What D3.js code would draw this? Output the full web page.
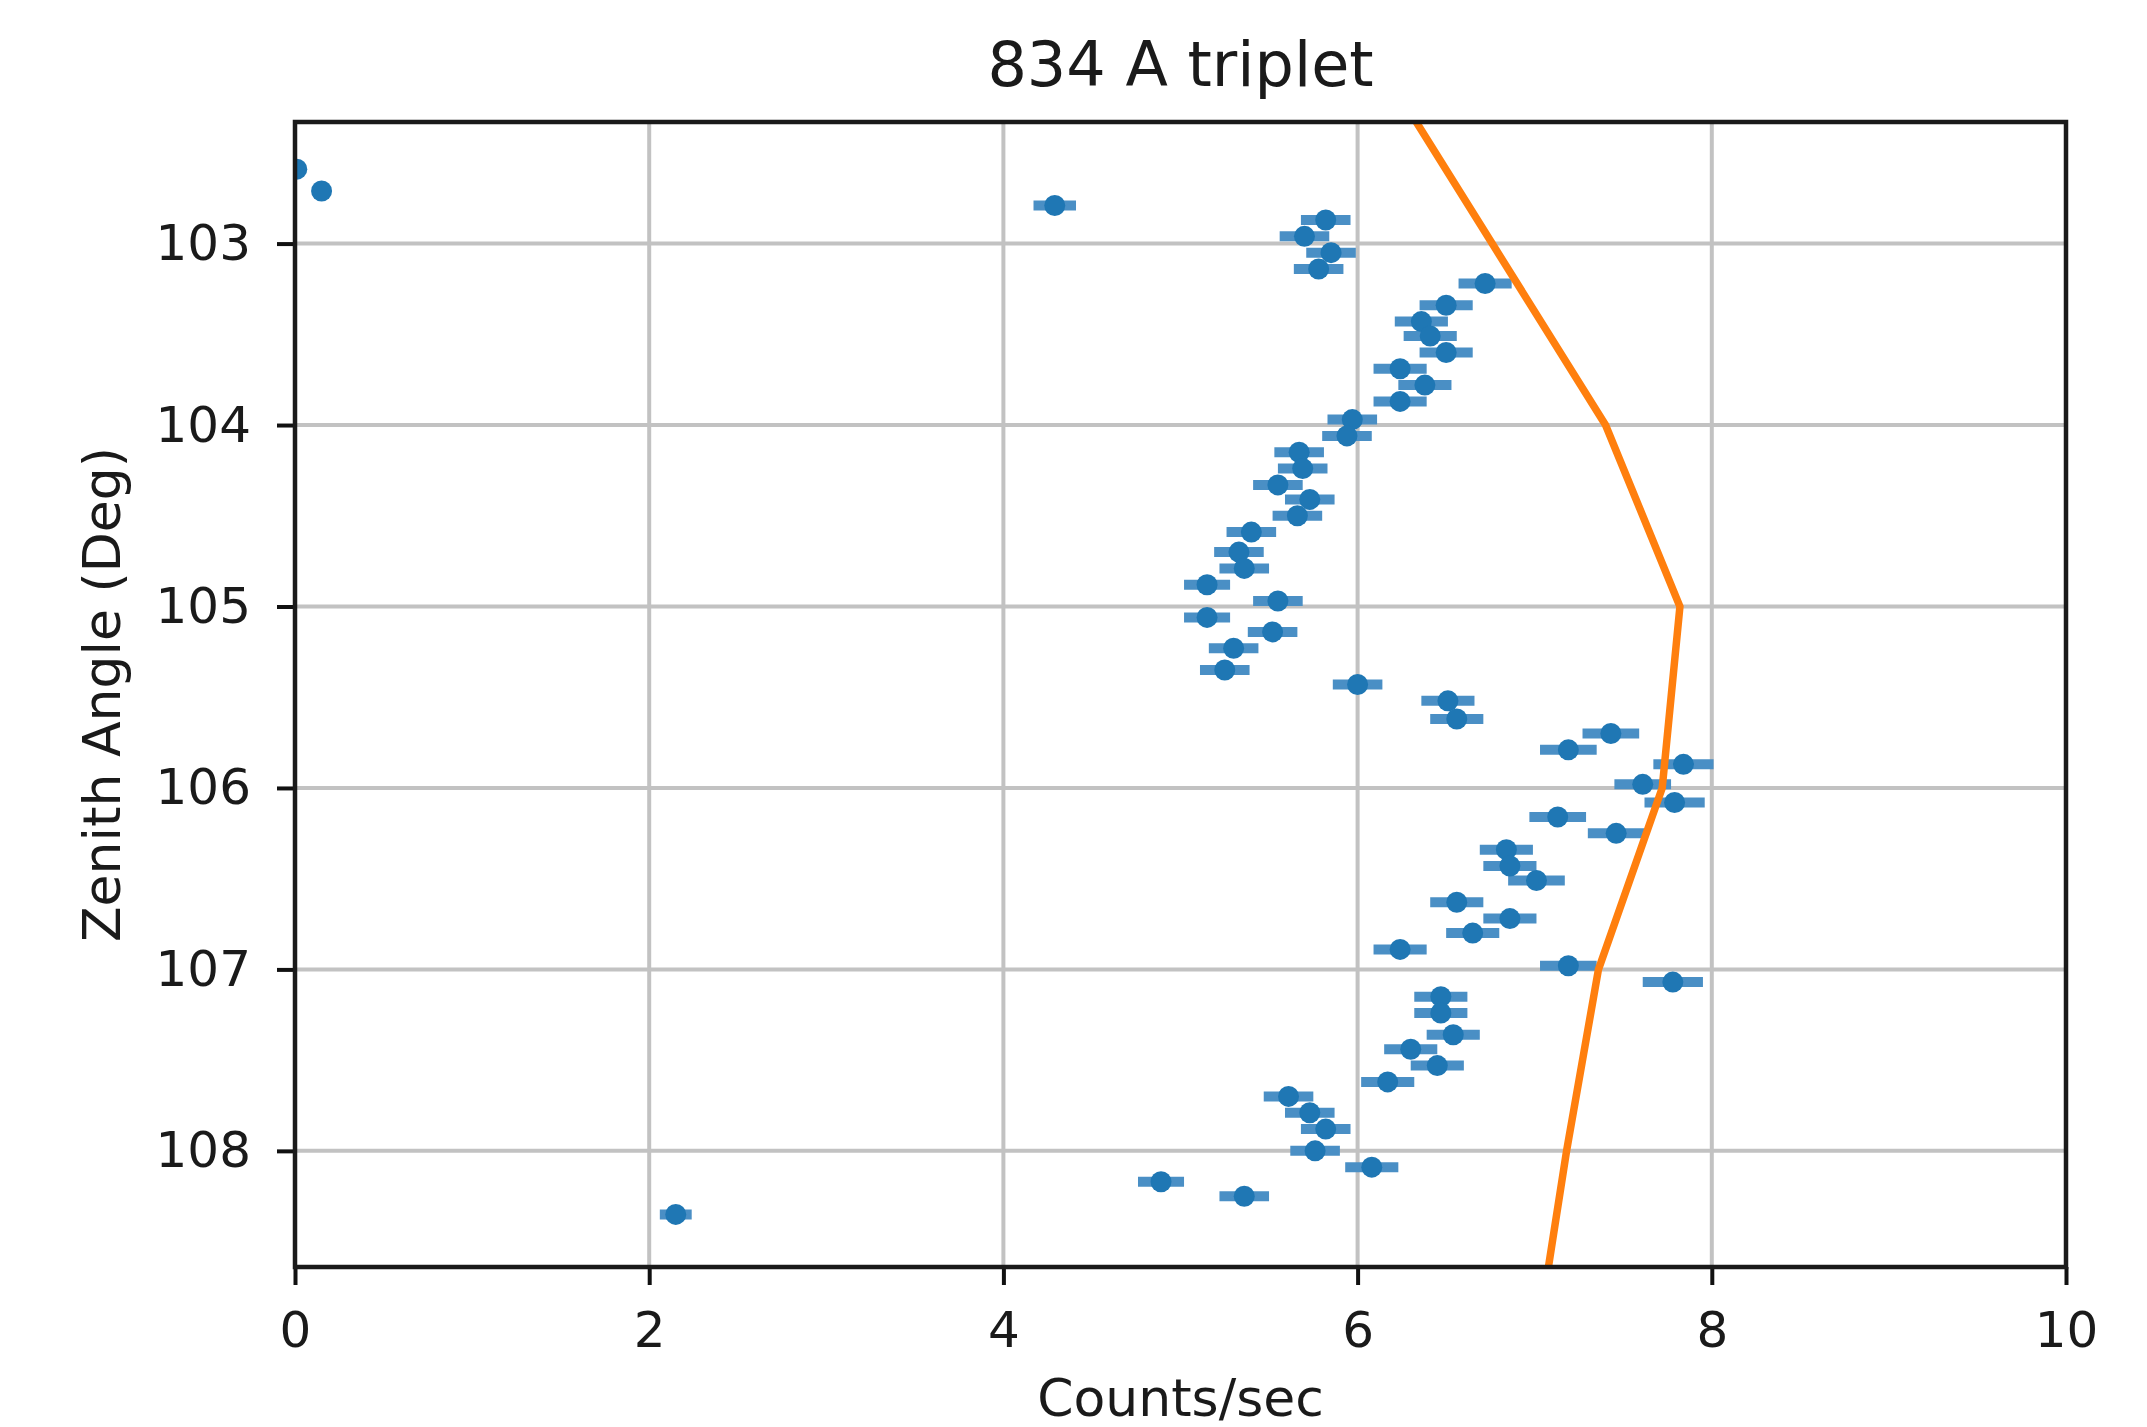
<!DOCTYPE html>
<html>
<head>
<meta charset="utf-8">
<script src="https://cdn.jsdelivr.net/npm/d3@7"></script>
<style>
  body { margin: 0; background: #fff; }
  svg { display: block; font-family: "DejaVu Sans", sans-serif; }
</style>
</head>
<body>
<svg></svg>
<script>
// zenith angle of each measurement (deg)
const angles = [
  102.59, 102.71, 102.79, 102.87, 102.96, 103.05, 103.14, 103.22, 103.34, 103.43,
  103.51, 103.60, 103.69, 103.78, 103.87, 103.97, 104.06, 104.15, 104.24, 104.33,
  104.41, 104.50, 104.59, 104.70, 104.79, 104.88, 104.97, 105.06, 105.14, 105.23,
  105.35, 105.43, 105.52, 105.62, 105.70, 105.79, 105.87, 105.98, 106.08, 106.16,
  106.25, 106.34, 106.43, 106.51, 106.63, 106.72, 106.80, 106.89, 106.98, 107.07,
  107.15, 107.24, 107.36, 107.44, 107.53, 107.62, 107.70, 107.79, 107.88, 108.00,
  108.09, 108.17, 108.25, 108.35
];
// measured rate (counts/sec)
const counts = [
  0.01, 0.15, 4.29, 5.82, 5.70, 5.85, 5.78, 6.72, 6.50, 6.36,
  6.41, 6.50, 6.24, 6.38, 6.24, 5.97, 5.94, 5.67, 5.69, 5.55,
  5.73, 5.66, 5.40, 5.33, 5.36, 5.15, 5.55, 5.15, 5.52, 5.30,
  5.25, 6.00, 6.51, 6.56, 7.43, 7.19, 7.84, 7.61, 7.79, 7.13,
  7.46, 6.84, 6.86, 7.01, 6.56, 6.86, 6.65, 6.24, 7.19, 7.78,
  6.47, 6.47, 6.54, 6.30, 6.45, 6.17, 5.61, 5.73, 5.82, 5.76,
  6.08, 4.89, 5.36, 2.15
];
// horizontal error on the rate
const countErr = [
  0.01, 0.02, 0.12, 0.14, 0.14, 0.14, 0.14, 0.15, 0.15, 0.15,
  0.15, 0.15, 0.15, 0.15, 0.15, 0.14, 0.14, 0.14, 0.14, 0.14,
  0.14, 0.14, 0.14, 0.14, 0.14, 0.13, 0.14, 0.13, 0.14, 0.14,
  0.14, 0.14, 0.15, 0.15, 0.16, 0.16, 0.17, 0.16, 0.17, 0.16,
  0.16, 0.15, 0.15, 0.16, 0.15, 0.15, 0.15, 0.15, 0.16, 0.17,
  0.15, 0.15, 0.15, 0.15, 0.15, 0.15, 0.14, 0.14, 0.14, 0.14,
  0.15, 0.13, 0.14, 0.09
];

// model curve
const modelAngles = [102, 103, 104, 105, 106, 107, 108, 109];
const modelCounts = [6.12, 6.76, 7.40, 7.82, 7.72, 7.36, 7.18, 7.02];

const xTicks = [0, 2, 4, 6, 8, 10];
const yTicks = [103, 104, 105, 106, 107, 108];

let width = 2147, height = 1427;
let margin = { left: 295, right: 81, top: 122, bottom: 160 };
let plotW = width - margin.left - margin.right;
let plotH = height - margin.top - margin.bottom;

let svg = d3.select("svg")
  .attr("width", width)
  .attr("height", height);

let x = d3.scaleLinear().domain([0, 10]).range([0, plotW]);
let y = d3.scaleLinear().domain([102.33, 108.64]).range([0, plotH]);

let g = svg.append("g")
  .attr("transform", `translate(${margin.left},${margin.top})`);

svg.append("defs").append("clipPath").attr("id", "clip")
  .append("rect").attr("width", plotW).attr("height", plotH);

// grid
g.append("g")
  .selectAll("line.vx")
  .data(xTicks)
  .enter().append("line")
  .attr("x1", d => x(d)).attr("x2", d => x(d))
  .attr("y1", 0).attr("y2", plotH)
  .attr("stroke", "#c2c2c2").attr("stroke-width", 4);

g.append("g")
  .selectAll("line.hy")
  .data(yTicks)
  .enter().append("line")
  .attr("x1", 0).attr("x2", plotW)
  .attr("y1", d => y(d)).attr("y2", d => y(d))
  .attr("stroke", "#c2c2c2").attr("stroke-width", 4);

let data = angles.map((a, i) => ({ a: a, c: counts[i], e: countErr[i] }));

let plot = g.append("g").attr("clip-path", "url(#clip)");

// error bars
plot.append("g")
  .selectAll("line")
  .data(data)
  .enter().append("line")
  .attr("x1", d => x(d.c - d.e))
  .attr("x2", d => x(d.c + d.e))
  .attr("y1", d => y(d.a))
  .attr("y2", d => y(d.a))
  .attr("stroke", "#4a8fc5")
  .attr("stroke-width", 10);

// points
plot.append("g")
  .selectAll("circle")
  .data(data)
  .enter().append("circle")
  .attr("cx", d => x(d.c))
  .attr("cy", d => y(d.a))
  .attr("r", 10.5)
  .attr("fill", "#1f77b4");

// model line
let line = d3.line()
  .x(d => x(d[1]))
  .y(d => y(d[0]));

plot.append("path")
  .datum(modelAngles.map((a, i) => [a, modelCounts[i]]))
  .attr("d", line)
  .attr("fill", "none")
  .attr("stroke", "#ff7f0e")
  .attr("stroke-width", 7.5);

// axes
let xAxis = g.append("g")
  .attr("transform", `translate(0,${plotH})`)
  .call(d3.axisBottom(x).tickValues(xTicks).tickFormat(d3.format("d"))
    .tickSize(18).tickPadding(26));

let yAxis = g.append("g")
  .call(d3.axisLeft(y).tickValues(yTicks).tickFormat(d3.format("d"))
    .tickSize(18).tickPadding(26));

[xAxis, yAxis].forEach(ax => {
  ax.select(".domain").remove();
  ax.selectAll(".tick line").attr("stroke", "#111").attr("stroke-width", 4);
  ax.selectAll(".tick text")
    .attr("fill", "#1a1a1a")
    .style("font-family", "DejaVu Sans")
    .style("font-size", "50px");
});

// frame
g.append("rect")
  .attr("width", plotW).attr("height", plotH)
  .attr("fill", "none")
  .attr("stroke", "#1a1a1a")
  .attr("stroke-width", 4.5);

// labels
svg.append("text")
  .attr("x", margin.left + plotW / 2)
  .attr("y", 86)
  .attr("text-anchor", "middle")
  .attr("fill", "#1a1a1a")
  .style("font-size", "62px")
  .text("834 A triplet");

svg.append("text")
  .attr("x", margin.left + plotW / 2)
  .attr("y", 1416)
  .attr("text-anchor", "middle")
  .attr("fill", "#1a1a1a")
  .style("font-size", "52px")
  .text("Counts/sec");

svg.append("text")
  .attr("transform", `translate(120,${margin.top + plotH / 2}) rotate(-90)`)
  .attr("text-anchor", "middle")
  .attr("fill", "#1a1a1a")
  .style("font-size", "52px")
  .text("Zenith Angle (Deg)");
</script>
</body>
</html>
